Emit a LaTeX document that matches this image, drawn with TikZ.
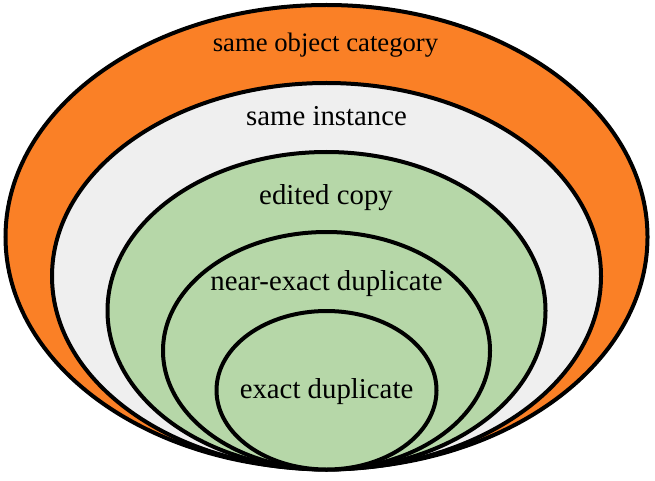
\documentclass[tikz,border=0pt]{standalone}
\usepackage{fontspec}
\setmainfont{Liberation Serif}
\usetikzlibrary{shapes.geometric}
\definecolor{outerorange}{RGB}{250,128,38}
\definecolor{lightgray}{RGB}{239,239,239}
\definecolor{lightgreen}{RGB}{182,215,168}
\begin{document}
\begin{tikzpicture}[x=1pt,y=-1pt,
  ring/.style={ellipse, draw=black, line width=4pt, inner sep=0pt, outer sep=0pt},
  lbl/.style={font=\fontsize{28.8}{34}\selectfont, inner sep=0pt, anchor=base},
  toplbl/.style={font=\fontsize{26.7}{32}\selectfont, inner sep=0pt, anchor=base}]
\useasboundingbox (0,0) rectangle (655,481);
\node[ring, fill=outerorange, minimum width=642pt, minimum height=464pt] (cat) at (326.5,237) {};
\node[ring, fill=lightgray, minimum width=549pt, minimum height=386.5pt] (inst) at (326.5,276.25) {};
\node[ring, fill=lightgreen, minimum width=438pt, minimum height=317.5pt] (edit) at (326.5,310.75) {};
\node[ring, fill=lightgreen, minimum width=327pt, minimum height=237.5pt] (near) at (326.5,350.75) {};
\node[ring, fill=lightgreen, minimum width=220pt, minimum height=158.5pt] (exact) at (326.5,390.25) {};
\node[toplbl] (tcat) at (325.5,52) {same object category};
\node[lbl] (tinst) at (326.5,126) {same instance};
\node[lbl] (tedit) at (326,204) {edited copy};
\node[lbl] (tnear) at (326.5,290) {near-exact duplicate};
\node[lbl] (texact) at (326.5,398) {exact duplicate};
\end{tikzpicture}
\end{document}
